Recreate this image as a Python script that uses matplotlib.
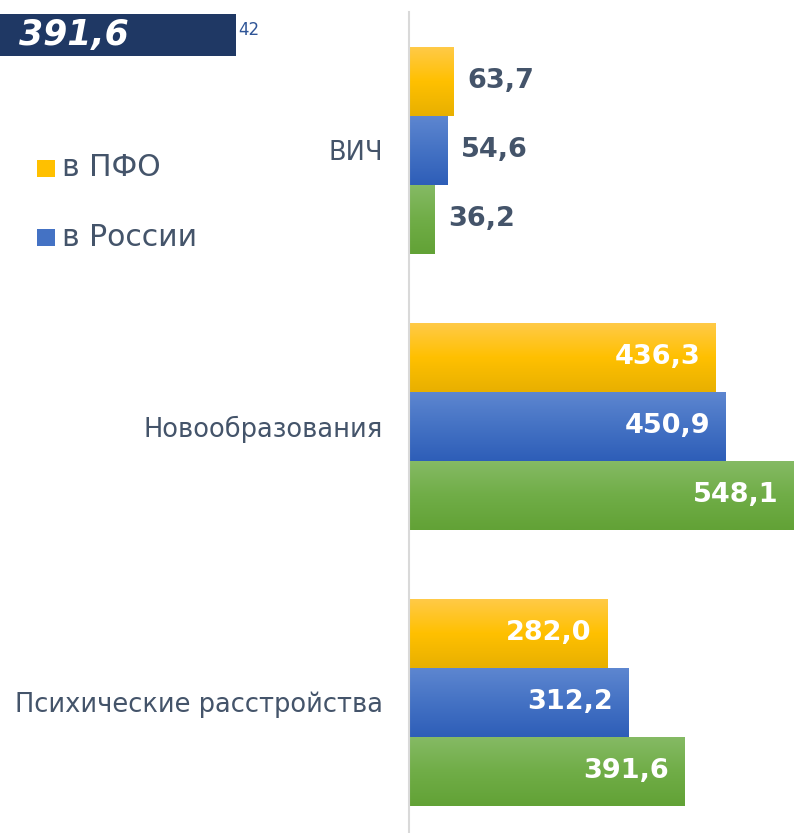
import matplotlib

matplotlib.use("Agg")
import matplotlib.pyplot as plt
import numpy as np
from matplotlib.colors import to_rgb
from matplotlib.patches import Rectangle

categories = ["ВИЧ", "Новообразования", "Психические расстройства"]
series_names = ["в ПФО", "в России", "green"]
pfo = [63.7, 436.3, 282.0]
russia = [54.6, 450.9, 312.2]
third = [36.2, 548.1, 391.6]
corner_value = "391,6"
corner_note = "42"

TEXT = "#44546A"
GRADIENTS = [
    ("#FFCA47", "#FFC000", "#E8B000"),
    ("#5D86D0", "#4472C4", "#2E5EB8"),
    ("#85BA64", "#70AD47", "#62A236"),
]
LEGEND_COLORS = ["#FFC000", "#4472C4"]


def gradient(colors, n=64):
    top, mid, bot = (np.array(to_rgb(c)) for c in colors)
    t = np.linspace(0, 1, n)[:, None]
    first = top + (mid - top) * np.clip(t * 2, 0, 1)
    second = mid + (bot - mid) * np.clip(t * 2 - 1, 0, 1)
    grad = np.where(t < 0.5, first, second)
    return grad[:, None, :]


fig = plt.figure(figsize=(7.94, 8.33), dpi=100)
W, H = 794, 833
ax = fig.add_axes([409 / W, (H - 840) / H, (794 - 409) / W, 828 / H])

y = np.arange(len(categories))
bar_h = 0.25
offsets = [-bar_h, 0, bar_h]
for values, off, cols in zip([pfo, russia, third], offsets, GRADIENTS):
    bars = ax.barh(y + off, values, height=bar_h, color=cols[1], linewidth=0)
    for bar, v in zip(bars, values):
        x0, yc = bar.get_x(), bar.get_y() + bar.get_height() / 2
        im = ax.imshow(gradient(cols), extent=(x0, x0 + bar.get_width(), yc + bar_h / 2, yc - bar_h / 2),
                       aspect="auto", origin="upper", zorder=2)
        im.set_clip_path(bar)
        label = f"{v:.1f}".replace(".", ",")
        if v < 100:
            ax.annotate(label, (v, yc), xytext=(10, 0), textcoords="offset points", ha="left", va="center",
                        fontsize=19.5, fontweight="bold", color=TEXT, zorder=3)
        else:
            ax.annotate(label, (v, yc), xytext=(-11, 0), textcoords="offset points", ha="right", va="center",
                        fontsize=19.5, fontweight="bold", color="white", zorder=3)

ax.set_xlim(0, 548.1)
ax.set_ylim(2.5, -0.5)
ax.set_xticks([])
ax.set_yticks(y)
ax.set_yticklabels(categories, fontsize=18.5, color=TEXT)
ax.tick_params(axis="y", length=0, pad=19)
for side in ["top", "right", "bottom"]:
    ax.spines[side].set_visible(False)
ax.spines["left"].set_color("#D9D9D9")
ax.spines["left"].set_linewidth(1.5)

# legend (only the first two series are visible in the crop)
for i, (name, col) in enumerate(zip(series_names[:2], LEGEND_COLORS)):
    yc = 168 + i * 69
    fig.patches.append(Rectangle((37 / W, (H - yc - 9) / H), 18 / W, 17 / H, transform=fig.transFigure,
                                 facecolor=col, edgecolor="none"))
    fig.text(62 / W, (H - yc) / H, name, fontsize=21.5, color=TEXT, va="center", ha="left")

# overlapping box from neighbouring chart
fig.patches.append(Rectangle((0, (H - 56) / H), 236 / W, 42 / H, transform=fig.transFigure,
                             facecolor="#1F3864", edgecolor="none"))
fig.text(19 / W, (H - 35) / H, corner_value, fontsize=25, fontweight="bold", fontstyle="italic",
         color="white", va="center", ha="left")
fig.text(238 / W, (H - 30) / H, corner_note, fontsize=12, color="#2F5597", va="center", ha="left")

fig.savefig("out.png", dpi=100)
